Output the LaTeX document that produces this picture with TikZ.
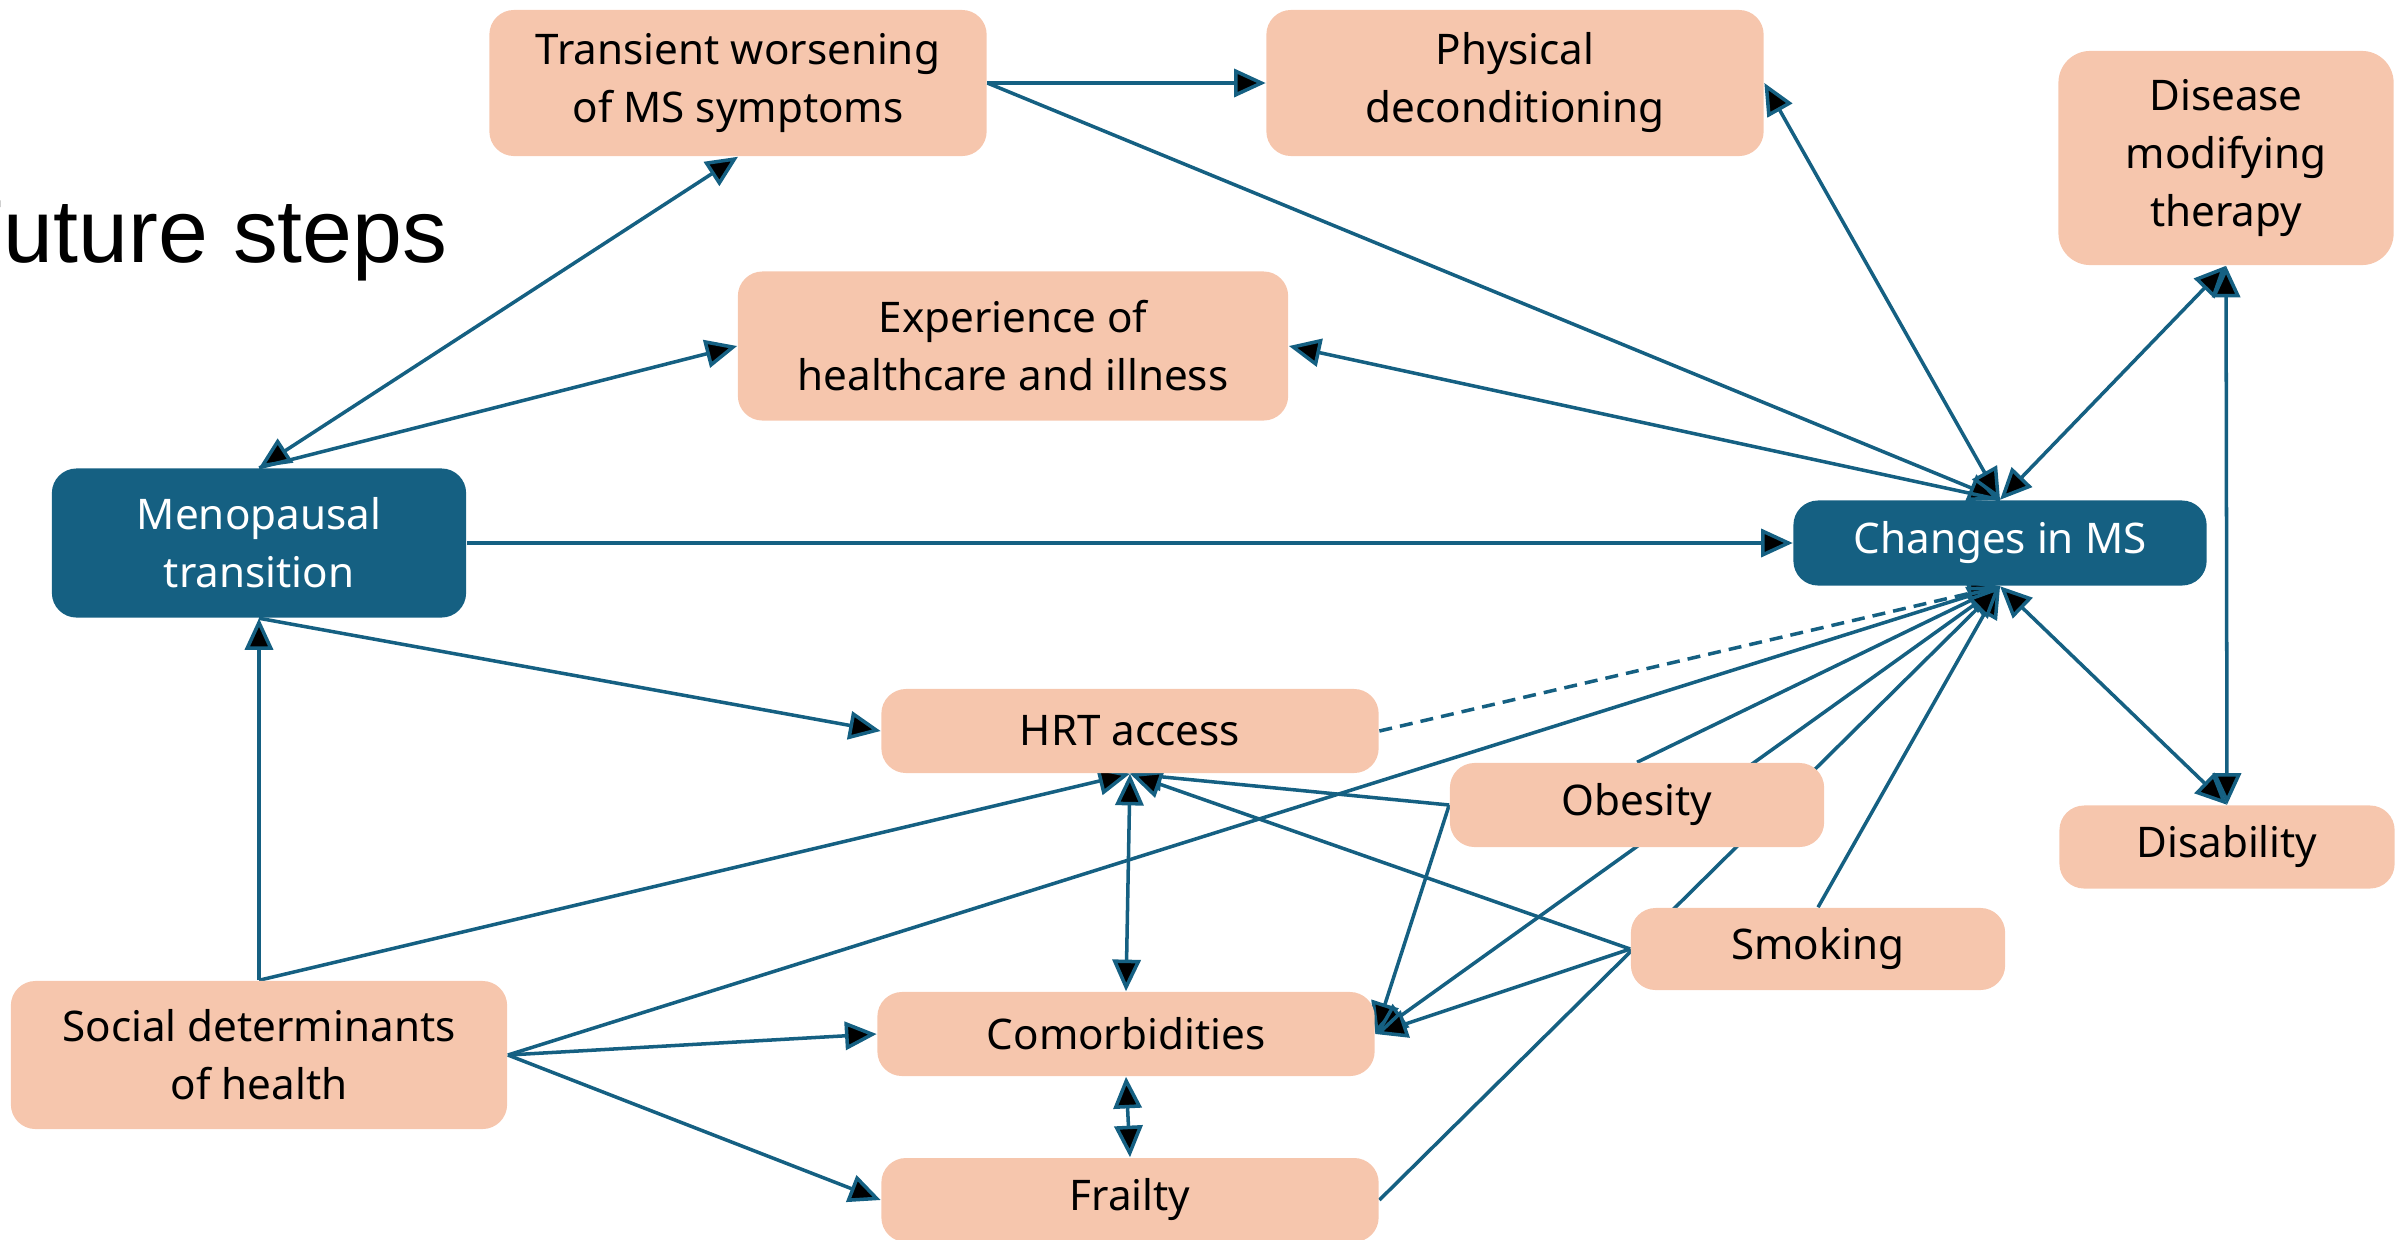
\documentclass[tikz,border=0pt]{standalone}
\usepackage{fontspec}
\setmainfont{Noto Sans}
\newfontfamily\titlefont{Liberation Sans}
\usetikzlibrary{arrows.meta,backgrounds}
\definecolor{msblue}{HTML}{156082}
\definecolor{peach}{HTML}{F6C6AD}

\begin{document}
\begin{tikzpicture}[x=0.01cm,y=-0.01cm,>={Triangle[length=9pt,width=8pt]}]
        \tikzstyle{factor}=[rectangle,rounded corners=7pt,fill=peach,text=black,align=center,inner sep=0pt,font=\fontsize{12}{16.5}\selectfont]
        \tikzstyle{exposure}=[factor,fill=msblue,text=white]
        \tikzstyle{link}=[draw=msblue,line width=1pt]

        \useasboundingbox (0,0) rectangle (2395,1239);

        \node [anchor=base east,font=\titlefont\fontsize{25.5}{30}\selectfont] (title) at (460,262) {Future steps};

        % top row
        \node [factor,minimum width=4.97cm,minimum height=1.46cm] (transient) at (738,83) {Transient worsening\\of MS symptoms};
        \node [factor,minimum width=4.97cm,minimum height=1.46cm] (physical) at (1515,83) {Physical\\deconditioning};
        \node [factor,minimum width=3.35cm,minimum height=2.14cm,rounded corners=9pt] (dmt) at (2226,158) {Disease\\modifying\\therapy};
        \node [factor,minimum width=5.5cm,minimum height=1.49cm] (experience) at (1013,346) {Experience of\\healthcare and illness};

        % middle row
        \node [exposure,minimum width=4.14cm,minimum height=1.49cm] (meno) at (259,543) {Menopausal\\transition};
        \node [exposure,minimum width=4.13cm,minimum height=0.85cm] (changes) at (2000,543) {Changes in MS};

        % bottom part
        \node [factor,minimum width=4.97cm,minimum height=0.84cm] (hrt) at (1130,731) {HRT access};
        \node [factor,minimum width=3.74cm,minimum height=0.84cm] (obesity) at (1637,805) {Obesity};
        \node [factor,minimum width=3.35cm,minimum height=0.83cm] (disability) at (2227,847) {Disability};
        \node [factor,minimum width=3.74cm,minimum height=0.82cm] (smoking) at (1818,949) {Smoking};
        \node [factor,minimum width=4.96cm,minimum height=1.48cm] (social) at (259,1055) {Social determinants\\of health};
        \node [factor,minimum width=4.97cm,minimum height=0.84cm] (comorb) at (1126,1034) {Comorbidities};
        \node [factor,minimum width=4.97cm,minimum height=0.84cm] (frailty) at (1130,1200) {Frailty};

        \begin{scope}[on background layer]
          \path[link] (transient.east) edge [->] (physical.west);
          \path[link] (transient.east) edge [->] (changes.north);
          \path[link] (physical.east) edge [<->] (changes.north);
          \path[link] (changes.north) edge [->] (experience.east);
          \path[link] (meno.north) edge [<->] (transient.south);
          \path[link] (meno.north) edge [->] (experience.west);
          \path[link] (meno.east) edge [->] (changes.west);
          \path[link] (meno.south) edge [->] (hrt.west);

          \path[link] (social.north) edge [->] (meno.south);
          \path[link] (social.north) edge [->] (hrt.south);
          \path[link] (social.east) edge [->] (changes.south);
          \path[link] (social.east) edge [->] (comorb.west);
          \path[link] (social.east) edge [->] (frailty.west);

          \path[link] (hrt.south) edge [<->] (comorb.north);
          \path[link] (comorb.south) edge [<->] (frailty.north);
          \path[link,dash pattern=on 3.7pt off 2.3pt] (hrt.east) edge [->] (changes.south);

          \path[link] (obesity.west) edge [->] (hrt.south);
          \path[link] (obesity.west) edge [->] (comorb.east);
          \path[link] (obesity.north) edge [->] (changes.south);
          \path[link] (comorb.east) edge [<->] (changes.south);

          \path[link] (smoking.north) edge [->] (changes.south);
          \path[link] (smoking.west) edge [->] (hrt.south);
          \path[link] (smoking.west) edge [->] (comorb.east);
          \path[link] (frailty.east) edge [->] (changes.south);

          \path[link] (changes.north) edge [<->] (dmt.south);
          \path[link] (changes.south) edge [<->] (disability.north);
          \path[link] (dmt.south) edge [<->] (disability.north);
        \end{scope}
\end{tikzpicture}
\end{document}
